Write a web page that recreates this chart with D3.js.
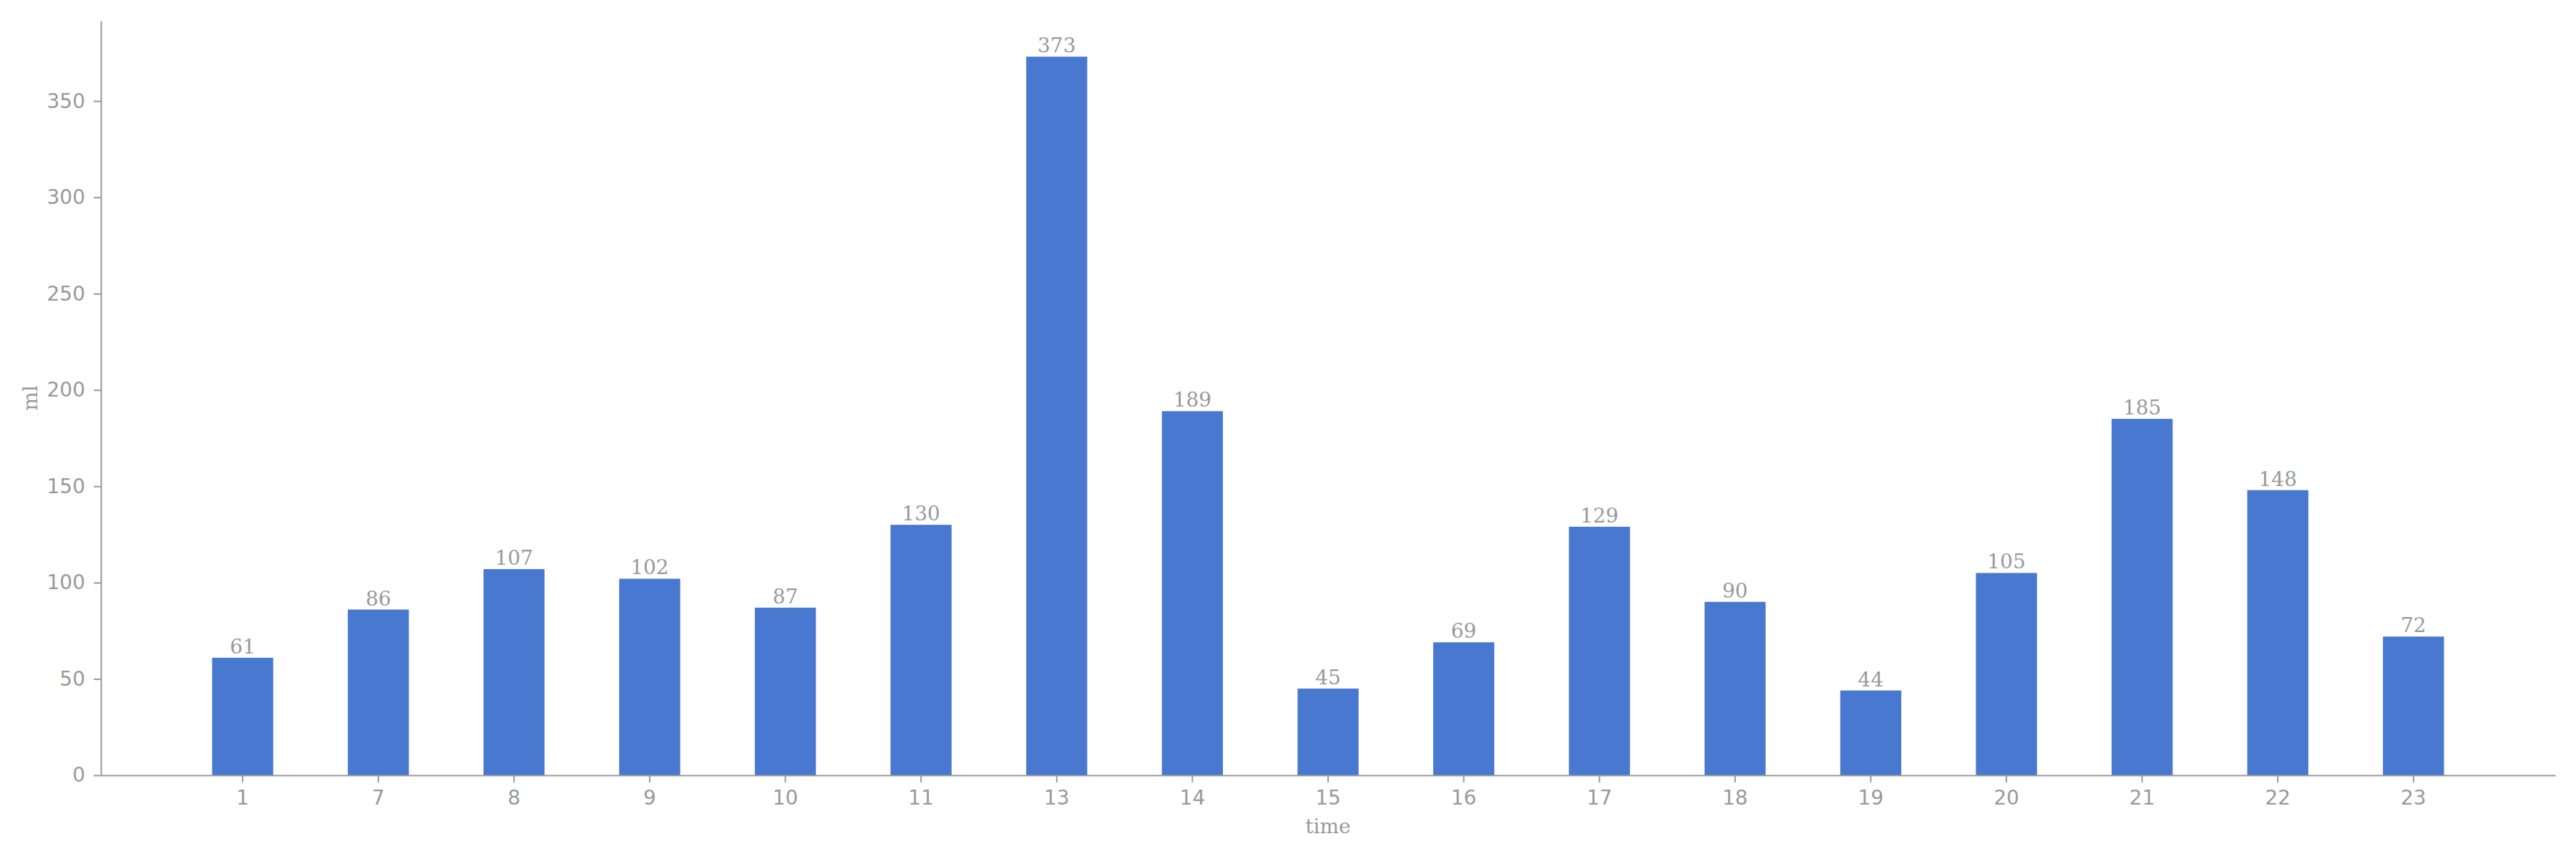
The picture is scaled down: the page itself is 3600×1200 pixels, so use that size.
<!DOCTYPE html>
<html>
<head>
<meta charset="utf-8">
<script src="https://cdn.jsdelivr.net/npm/d3@7"></script>
<style>
  body { margin: 0; background: #fff; }
</style>
</head>
<body>
<script>
var width = 3600;
var height = 1200;
var margin = {top: 29, right: 29, bottom: 117, left: 141};

// data
var hours = ["1", "7", "8", "9", "10", "11", "13", "14", "15", "16", "17", "18", "19", "20", "21", "22", "23"];
var volumes = [61, 86, 107, 102, 87, 130, 373, 189, 45, 69, 129, 90, 44, 105, 185, 148, 72];
var yTicks = [0, 50, 100, 150, 200, 250, 300, 350];

var grey = "#999999";
var barColor = "#4878d0";

var svg = d3.select("body").append("svg")
  .attr("width", width)
  .attr("height", height);

var w = width - margin.left - margin.right;
var h = height - margin.top - margin.bottom;

var g = svg.append("g").attr("transform", "translate(" + margin.left + "," + margin.top + ")");

var x = d3.scaleBand()
  .domain(hours)
  .range([0, w])
  .paddingInner(0.55)
  .paddingOuter(0.82);

var y = d3.scaleLinear()
  .domain([0, d3.max(volumes) * 1.05])
  .range([h, 0]);

// bars
g.selectAll("rect.bar")
  .data(volumes)
  .enter().append("rect")
  .attr("class", "bar")
  .attr("x", function(d, i) { return x(hours[i]); })
  .attr("y", function(d) { return y(d); })
  .attr("width", x.bandwidth())
  .attr("height", function(d) { return h - y(d); })
  .attr("fill", barColor);

// value labels
g.selectAll("text.val")
  .data(volumes)
  .enter().append("text")
  .attr("class", "val")
  .attr("x", function(d, i) { return x(hours[i]) + x.bandwidth() / 2; })
  .attr("y", function(d) { return y(d) - 6; })
  .attr("text-anchor", "middle")
  .style("font-family", "'DejaVu Serif', serif")
  .style("font-size", "28px")
  .attr("fill", grey)
  .text(function(d) { return d; });

// axes
var xAxis = g.append("g")
  .attr("transform", "translate(0," + h + ")")
  .call(d3.axisBottom(x).tickSize(10).tickPadding(11).tickSizeOuter(0));

var yAxis = g.append("g")
  .call(d3.axisLeft(y).tickValues(yTicks).tickSize(10).tickPadding(12).tickSizeOuter(0));

[xAxis, yAxis].forEach(function(a) {
  a.select(".domain").attr("stroke", grey).attr("stroke-width", 2);
  a.selectAll(".tick line").attr("stroke", grey).attr("stroke-width", 2);
  a.selectAll(".tick text")
    .attr("fill", grey)
    .style("font-family", "'DejaVu Sans', sans-serif")
    .style("font-size", "28px");
});

// axis titles
svg.append("text")
  .attr("x", margin.left + w / 2)
  .attr("y", 1164)
  .attr("text-anchor", "middle")
  .style("font-family", "'DejaVu Serif', serif")
  .style("font-size", "28px")
  .attr("fill", grey)
  .text("time");

svg.append("text")
  .attr("transform", "translate(52," + (margin.top + h / 2) + ") rotate(-90)")
  .attr("text-anchor", "middle")
  .style("font-family", "'DejaVu Serif', serif")
  .style("font-size", "28px")
  .attr("fill", grey)
  .text("ml");
</script>
</body>
</html>
